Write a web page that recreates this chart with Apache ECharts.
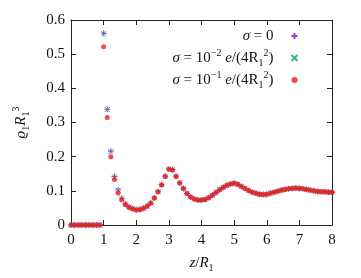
<!DOCTYPE html>
<html><head><meta charset="utf-8">
<script src="https://cdn.jsdelivr.net/npm/echarts@6/dist/echarts.min.js"></script>
<style>html,body{margin:0;padding:0;background:#fff}#c{width:361px;height:278px}</style>
</head><body><div id="c"></div>
<script>
const zValues = [0,0.111,0.222,0.333,0.444,0.556,0.667,0.778,0.889,
 1,1.111,1.222,1.333,1.444,1.556,1.667,1.778,1.889,
 2,2.111,2.222,2.333,2.444,2.556,2.667,2.778,2.889,
 3,3.111,3.222,3.333,3.444,3.556,3.667,3.778,3.889,
 4,4.111,4.222,4.333,4.444,4.556,4.667,4.778,4.889,
 5,5.111,5.222,5.333,5.444,5.556,5.667,5.778,5.889,
 6,6.111,6.222,6.333,6.444,6.556,6.667,6.778,6.889,
 7,7.111,7.222,7.333,7.444,7.556,7.667,7.778,7.889,8];
const rhoSigma0 = [0,0,0,0,0,0,0,0,0,
 0.561,0.339,0.216,0.142,0.103,0.078,0.062,0.053,0.048,
 0.045,0.046,0.049,0.055,0.064,0.079,0.097,0.118,0.143,
 0.164,0.162,0.143,0.123,0.107,0.092,0.082,0.076,0.073,
 0.073,0.075,0.080,0.087,0.095,0.103,0.110,0.116,0.120,
 0.122,0.119,0.113,0.107,0.101,0.096,0.093,0.090,0.089,
 0.090,0.093,0.096,0.099,0.102,0.104,0.106,0.107,0.108,
 0.107,0.106,0.104,0.102,0.100,0.098,0.097,0.097,0.096,0.096];
const rhoSigma2 = [0,0,0,0,0,0,0,0,0,
 0.560,0.338,0.215,0.141,0.102,0.078,0.062,0.053,0.048,
 0.045,0.046,0.049,0.055,0.064,0.079,0.097,0.118,0.143,
 0.164,0.162,0.143,0.123,0.107,0.092,0.082,0.076,0.073,
 0.073,0.075,0.080,0.087,0.095,0.103,0.110,0.116,0.120,
 0.122,0.119,0.113,0.107,0.101,0.096,0.093,0.090,0.089,
 0.090,0.093,0.096,0.099,0.102,0.104,0.106,0.107,0.108,
 0.107,0.106,0.104,0.102,0.100,0.098,0.097,0.097,0.096,0.096];
const rhoSigma1 = [0,0,0,0,0,0,0,0,0,
 0.522,0.315,0.200,0.133,0.094,0.074,0.059,0.051,0.047,
 0.044,0.045,0.048,0.055,0.064,0.079,0.097,0.117,0.142,
 0.163,0.161,0.142,0.123,0.107,0.092,0.082,0.076,0.073,
 0.073,0.075,0.080,0.087,0.095,0.103,0.110,0.116,0.120,
 0.122,0.119,0.113,0.107,0.101,0.096,0.093,0.090,0.089,
 0.090,0.093,0.096,0.099,0.102,0.104,0.106,0.107,0.108,
 0.107,0.106,0.104,0.102,0.100,0.098,0.097,0.097,0.096,0.096];
const xTicks = [0,1,2,3,4,5,6,7,8];
const yTicks = [0,0.1,0.2,0.3,0.4,0.5,0.6];
const seriesNames = ['s0','s2','s1'];

const FONT = 'Liberation Serif';
const frame = '#222';
const pair = (ys) => zValues.map((z,i)=>[z, ys[i]]);
const plusPath = 'path://M0,-10 L0,10 M-10,0 L10,0';
const crossPath = 'path://M-10,-10 L10,10 M-10,10 L10,-10';

const rich = {
  it:{fontFamily:FONT,fontStyle:'italic',fontSize:15,color:'#111',lineHeight:20},
  n:{fontFamily:FONT,fontSize:15,color:'#111',lineHeight:20},
  sup:{fontFamily:FONT,fontSize:10,color:'#111',verticalAlign:'top',lineHeight:12},
  sub:{fontFamily:FONT,fontSize:10,color:'#111',verticalAlign:'bottom',lineHeight:11}
};
const labels = {
  s0:'{it|σ}{n| = 0}',
  s2:'{it|σ}{n| = 10}{sup|−2}{n| }{it|e}{n|/(4R}{sub|1}{sup|2}{n|)}',
  s1:'{it|σ}{n| = 10}{sup|−1}{n| }{it|e}{n|/(4R}{sub|1}{sup|2}{n|)}'
};

const axisCommon = {
  type:'value', splitLine:{show:false},
  axisLine:{show:true,onZero:false,lineStyle:{color:frame,width:1}},
  axisTick:{show:true,inside:true,length:5,lineStyle:{color:frame}}
};
const chart = echarts.init(document.getElementById('c'));
chart.setOption({
  animation:false,
  backgroundColor:'#fff',
  grid:{left:71,right:29,top:20,bottom:50},
  legend:{
    orient:'vertical', align:'right', right:56, top:21,
    itemWidth:6, itemHeight:6, itemGap:2,
    data:seriesNames,
    formatter:(n)=>labels[n],
    textStyle:{rich:rich, lineHeight:20, padding:[0,13,0,0]}
  },
  xAxis:[
    Object.assign({}, axisCommon, {min:0,max:8,interval:1,position:'bottom',
      name:'{it|z}{n|/}{it|R}{sub|1}', nameLocation:'middle', nameGap:28,
      nameTextStyle:{rich:rich},
      axisLabel:{fontFamily:FONT,fontSize:15,color:'#111',margin:8,
        customValues:xTicks}}),
    Object.assign({}, axisCommon, {min:0,max:8,interval:1,position:'top',axisLabel:{show:false}})
  ],
  yAxis:[
    Object.assign({}, axisCommon, {min:0,max:0.6,interval:0.1,position:'left',
      name:'{it|ϱ}{sub|1}{it|R}{sub|1}{sup|3}', nameLocation:'middle', nameGap:40, nameRotate:90,
      nameTextStyle:{rich:rich},
      axisLabel:{fontFamily:FONT,fontSize:15,color:'#111',margin:6,
        formatter:(v)=>String(+v.toFixed(1))}}),
    Object.assign({}, axisCommon, {min:0,max:0.6,interval:0.1,position:'right',axisLabel:{show:false}})
  ],
  series:[
    {name:'s0',type:'scatter',data:pair(rhoSigma0),symbol:plusPath,symbolSize:6,
     itemStyle:{color:'none',borderColor:'#9400d3',borderWidth:1}},
    {name:'s2',type:'scatter',data:pair(rhoSigma2),symbol:crossPath,symbolSize:5,
     itemStyle:{color:'none',borderColor:'#009e73',borderWidth:1}},
    {name:'s1',type:'scatter',data:pair(rhoSigma1),symbol:'circle',symbolSize:5,
     itemStyle:{color:'#f01e14'}}
  ]
});
</script></body></html>
